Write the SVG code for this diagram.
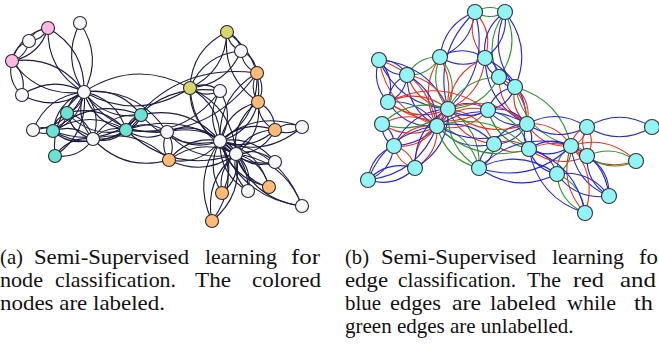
<svg xmlns="http://www.w3.org/2000/svg" width="659" height="345" viewBox="0 0 659 345">
<style>
path{fill:none;vector-effect:non-scaling-stroke;stroke-width:1.1}
.k{stroke:#1c1a3e}
.r{stroke:#e8321e}
.b{stroke:#2424e0}
.g{stroke:#2b962b}
circle{stroke:#2a2a2a;stroke-width:1.1}
.w circle{fill:#f6f6fb}
.p circle{fill:#ffb8e4}
.t circle{fill:#6ae2d4}
.o circle{fill:#d6d66c}
.y circle{fill:#ffba78}
.c circle{fill:#92f4f4;stroke:#333}
text{font-family:"Liberation Serif","Times New Roman",serif;font-size:21px;fill:#111}
</style>
<rect width="659" height="345" fill="#fff"/>
<g id="edges-a">
<path class="k" transform="matrix(9 47 -47 9 84 92)" d="M0,0Q.5,.3 1,0Q.5,-.3 0,0"/>
<path class="k" transform="matrix(42 38 -38 42 84 92)" d="M0,0Q.5,.3 1,0Q.5,-.3 0,0"/>
<path class="k" transform="matrix(-31 39 -39 -31 84 92)" d="M0,0Q.5,.3 1,0Q.5,-.3 0,0"/>
<path class="k" transform="matrix(-62 3 -3 -62 84 92)" d="M0,0Q.5,.3 1,0Q.5,-.3 0,0"/>
<path class="k" transform="matrix(-36 -64 64 -36 84 92)" d="M0,0Q.5,.3 1,0Q.5,-.3 0,0"/>
<path class="k" transform="matrix(-72 -31 31 -72 84 92)" d="M0,0Q.5,.3 1,0Q.5,-.3 0,0"/>
<path class="k" transform="matrix(-17 21 -21 -17 84 92)" d="M0,0Q.5,.3 1,0Q.5,-.3 0,0"/>
<path class="k" transform="matrix(83 40 -40 83 84 92)" d="M0,0Q.5,.3 1,0Q.5,-.3 0,0"/>
<path class="k" transform="matrix(-4 -69 69 -4 84 92)" d="M0,0Q.5,.3 1,0Q.5,-.3 0,0"/>
<path class="k" transform="matrix(-51 38 -38 -51 84 92)" d="M0,0Q.5,.3 1,0Q.5,-.3 0,0"/>
<path class="k" transform="matrix(57 23 -23 57 84 92)" d="M0,0Q.5,.3 1,0Q.5,-.3 0,0"/>
<path class="k" transform="matrix(-29 64 -64 -29 84 92)" d="M0,0Q.5,.3 1,0Q.5,-.3 0,0"/>
<path class="k" transform="matrix(106 -4 4 106 84 92)" d="M0,0Q.5,.3 1,0Q.5,-.3 0,0"/>
<path class="k" transform="matrix(33 -9 9 33 93 139)" d="M0,0Q.5,.3 1,0Q.5,-.3 0,0"/>
<path class="k" transform="matrix(-40 -8 8 -40 93 139)" d="M0,0Q.5,.3 1,0Q.5,-.3 0,0"/>
<path class="k" transform="matrix(-26 -26 26 -26 93 139)" d="M0,0Q.5,.3 1,0Q.5,-.3 0,0"/>
<path class="k" transform="matrix(48 -24 24 48 93 139)" d="M0,0Q.5,.3 1,0Q.5,-.3 0,0"/>
<path class="k" transform="matrix(-38 17 -17 -38 93 139)" d="M0,0Q.5,.3 1,0Q.5,-.3 0,0"/>
<path class="k" transform="matrix(76 21 -21 76 93 139)" d="M0,0Q.5,.3 1,0Q.5,-.3 0,0"/>
<path class="k" transform="matrix(-73 1 -1 -73 126 130)" d="M0,0Q.5,.3 1,0Q.5,-.3 0,0"/>
<path class="k" transform="matrix(-59 -17 17 -59 126 130)" d="M0,0Q.5,.3 1,0Q.5,-.3 0,0"/>
<path class="k" transform="matrix(41 2 -2 41 126 130)" d="M0,0Q.5,.3 1,0Q.5,-.3 0,0"/>
<path class="k" transform="matrix(15 -15 15 15 126 130)" d="M0,0Q.5,.3 1,0Q.5,-.3 0,0"/>
<path class="k" transform="matrix(131 -57 57 131 126 130)" d="M0,0Q.5,.3 1,0Q.5,-.3 0,0"/>
<path class="k" transform="matrix(94 -39 39 94 126 130)" d="M0,0Q.5,.3 1,0Q.5,-.3 0,0"/>
<path class="k" transform="matrix(110 24 -24 110 126 130)" d="M0,0Q.5,.3 1,0Q.5,-.3 0,0"/>
<path class="k" transform="matrix(14 -18 18 14 53 131)" d="M0,0Q.5,.3 1,0Q.5,-.3 0,0"/>
<path class="k" transform="matrix(-20 -1 1 -20 53 131)" d="M0,0Q.5,.3 1,0Q.5,-.3 0,0"/>
<path class="k" transform="matrix(88 -16 16 88 53 131)" d="M0,0Q.5,.3 1,0Q.5,-.3 0,0"/>
<path class="k" transform="matrix(-10 -34 34 -10 22 95)" d="M0,0Q.5,.3 1,0Q.5,-.3 0,0"/>
<path class="k" transform="matrix(-36 33 -33 -36 48 28)" d="M0,0Q.5,.3 1,0Q.5,-.3 0,0"/>
<path class="k" transform="matrix(-19 13 -13 -19 48 28)" d="M0,0Q.5,.3 1,0Q.5,-.3 0,0"/>
<path class="k" transform="matrix(17 -20 20 17 12 61)" d="M0,0Q.5,.3 1,0Q.5,-.3 0,0"/>
<path class="k" transform="matrix(2 28 -28 2 167 132)" d="M0,0Q.5,.3 1,0Q.5,-.3 0,0"/>
<path class="k" transform="matrix(69 22 -22 69 167 132)" d="M0,0Q.5,.3 1,0Q.5,-.3 0,0"/>
<path class="k" transform="matrix(53 9 -9 53 167 132)" d="M0,0Q.5,.3 1,0Q.5,-.3 0,0"/>
<path class="k" transform="matrix(8 -80 80 8 212 221)" d="M0,0Q.5,.3 1,0Q.5,-.3 0,0"/>
<path class="k" transform="matrix(24 -67 67 24 212 221)" d="M0,0Q.5,.3 1,0Q.5,-.3 0,0"/>
<path class="k" transform="matrix(79 26 -26 79 141 115)" d="M0,0Q.5,.3 1,0Q.5,-.3 0,0"/>
<path class="k" transform="matrix(-39 -8 8 -39 275 162)" d="M0,0Q.5,.3 1,0Q.5,-.3 0,0"/>
<path class="k" transform="matrix(-55 -21 21 -55 275 162)" d="M0,0Q.5,.3 1,0Q.5,-.3 0,0"/>
<path class="k" transform="matrix(-66 -52 52 -66 302 206)" d="M0,0Q.5,.3 1,0Q.5,-.3 0,0"/>
<path class="k" transform="matrix(-82 -65 65 -82 302 206)" d="M0,0Q.5,.3 1,0Q.5,-.3 0,0"/>
<path class="k" transform="matrix(-12 -37 37 -12 248 191)" d="M0,0Q.5,.3 1,0Q.5,-.3 0,0"/>
<path class="k" transform="matrix(-28 -50 50 -28 248 191)" d="M0,0Q.5,.3 1,0Q.5,-.3 0,0"/>
<path class="k" transform="matrix(-33 -33 33 -33 269 187)" d="M0,0Q.5,.3 1,0Q.5,-.3 0,0"/>
<path class="k" transform="matrix(-49 -46 46 -49 269 187)" d="M0,0Q.5,.3 1,0Q.5,-.3 0,0"/>
<path class="k" transform="matrix(14 -39 39 14 222 193)" d="M0,0Q.5,.3 1,0Q.5,-.3 0,0"/>
<path class="k" transform="matrix(-2 -52 52 -2 222 193)" d="M0,0Q.5,.3 1,0Q.5,-.3 0,0"/>
<path class="k" transform="matrix(-31 -70 70 -31 258 102)" d="M0,0Q.5,.3 1,0Q.5,-.3 0,0"/>
<path class="k" transform="matrix(-1 -29 29 -1 258 102)" d="M0,0Q.5,.3 1,0Q.5,-.3 0,0"/>
<path class="k" transform="matrix(17 28 -28 17 258 102)" d="M0,0Q.5,.3 1,0Q.5,-.3 0,0"/>
<path class="k" transform="matrix(-22 52 -52 -22 258 102)" d="M0,0Q.5,.3 1,0Q.5,-.3 0,0"/>
<path class="k" transform="matrix(-38 39 -39 -38 258 102)" d="M0,0Q.5,.3 1,0Q.5,-.3 0,0"/>
<path class="k" transform="matrix(-14 -19 19 -14 241 51)" d="M0,0Q.5,.3 1,0Q.5,-.3 0,0"/>
<path class="k" transform="matrix(16 22 -22 16 241 51)" d="M0,0Q.5,.3 1,0Q.5,-.3 0,0"/>
<path class="k" transform="matrix(-51 37 -37 -51 241 51)" d="M0,0Q.5,.3 1,0Q.5,-.3 0,0"/>
<path class="k" transform="matrix(-37 56 -56 -37 227 32)" d="M0,0Q.5,.3 1,0Q.5,-.3 0,0"/>
<path class="k" transform="matrix(-27 3 -3 -27 302 127)" d="M0,0Q.5,.3 1,0Q.5,-.3 0,0"/>
<path class="k" transform="matrix(-82 14 -14 -82 302 127)" d="M0,0Q.5,.3 1,0Q.5,-.3 0,0"/>
<path class="k" transform="matrix(-37 68 -68 -37 257 73)" d="M0,0Q.5,.3 1,0Q.5,-.3 0,0"/>
<path class="k" transform="matrix(-30 -3 3 -30 220 91)" d="M0,0Q.5,.3 1,0Q.5,-.3 0,0"/>
<path class="k" transform="matrix(0 50 -50 0 220 91)" d="M0,0Q.5,.3 1,0Q.5,-.3 0,0"/>
<path class="k" transform="matrix(-39 24 -24 -39 275 130)" d="M0,0Q.5,.3 1,0Q.5,-.3 0,0"/>
<path class="k" transform="matrix(-55 11 -11 -55 275 130)" d="M0,0Q.5,.3 1,0Q.5,-.3 0,0"/>
<path class="k" transform="matrix(67 -6 6 67 169 160)" d="M0,0Q.5,.3 1,0Q.5,-.3 0,0"/>
<path class="k" transform="matrix(51 -19 19 51 169 160)" d="M0,0Q.5,.3 1,0Q.5,-.3 0,0"/>
<path class="k" transform="matrix(46 66 -66 46 190 88)" d="M0,0Q.5,.3 1,0Q.5,-.3 0,0"/>
<path class="k" transform="matrix(30 53 -53 30 190 88)" d="M0,0Q.5,.3 1,0Q.5,-.3 0,0"/>
<path class="k" transform="matrix(-16 -13 13 -16 236 154)" d="M0,0Q.5,.3 1,0Q.5,-.3 0,0"/>
</g>
<g id="edges-b">
<path class="g" transform="matrix(30 0 0 30 475 12)" d="M0,0Q.5,.3 1,0Q.5,-.3 0,0"/>
<path class="b" transform="matrix(-35 45 -45 -35 475 12)" d="M0,0Q.5,.3 1,0Q.5,-.3 0,0"/>
<path class="r" transform="matrix(10 46 -46 10 475 12)" d="M0,0Q.5,.3 1,0Q.5,-.3 0,0"/>
<path class="b" transform="matrix(-27 97 -97 -27 475 12)" d="M0,0Q.5,.3 1,0Q.5,-.3 0,0"/>
<path class="g" transform="matrix(-6 65 -65 -6 505 12)" d="M0,0Q.5,.3 1,0Q.5,-.3 0,0"/>
<path class="b" transform="matrix(10 75 -75 10 505 12)" d="M0,0Q.5,.3 1,0Q.5,-.3 0,0"/>
<path class="b" transform="matrix(-20 46 -46 -20 505 12)" d="M0,0Q.5,.3 1,0Q.5,-.3 0,0"/>
<path class="b" transform="matrix(45 1 -1 45 440 57)" d="M0,0Q.5,.3 1,0Q.5,-.3 0,0"/>
<path class="g" transform="matrix(8 52 -52 8 440 57)" d="M0,0Q.5,.3 1,0Q.5,-.3 0,0"/>
<path class="g" transform="matrix(-33 18 -18 -33 440 57)" d="M0,0Q.5,.3 1,0Q.5,-.3 0,0"/>
<path class="r" transform="matrix(-3 69 -69 -3 440 57)" d="M0,0Q.5,.3 1,0Q.5,-.3 0,0"/>
<path class="b" transform="matrix(14 19 -19 14 485 58)" d="M0,0Q.5,.3 1,0Q.5,-.3 0,0"/>
<path class="b" transform="matrix(42 66 -66 42 485 58)" d="M0,0Q.5,.3 1,0Q.5,-.3 0,0"/>
<path class="r" transform="matrix(-37 51 -51 -37 485 58)" d="M0,0Q.5,.3 1,0Q.5,-.3 0,0"/>
<path class="b" transform="matrix(16 10 -10 16 499 77)" d="M0,0Q.5,.3 1,0Q.5,-.3 0,0"/>
<path class="g" transform="matrix(-51 32 -32 -51 499 77)" d="M0,0Q.5,.3 1,0Q.5,-.3 0,0"/>
<path class="r" transform="matrix(28 47 -47 28 499 77)" d="M0,0Q.5,.3 1,0Q.5,-.3 0,0"/>
<path class="r" transform="matrix(12 37 -37 12 515 87)" d="M0,0Q.5,.3 1,0Q.5,-.3 0,0"/>
<path class="g" transform="matrix(56 59 -59 56 515 87)" d="M0,0Q.5,.3 1,0Q.5,-.3 0,0"/>
<path class="b" transform="matrix(-27 23 -23 -27 515 87)" d="M0,0Q.5,.3 1,0Q.5,-.3 0,0"/>
<path class="b" transform="matrix(28 15 -15 28 379 60)" d="M0,0Q.5,.3 1,0Q.5,-.3 0,0"/>
<path class="b" transform="matrix(69 49 -49 69 379 60)" d="M0,0Q.5,.3 1,0Q.5,-.3 0,0"/>
<path class="r" transform="matrix(58 66 -66 58 379 60)" d="M0,0Q.5,.3 1,0Q.5,-.3 0,0"/>
<path class="r" transform="matrix(41 34 -34 41 407 75)" d="M0,0Q.5,.3 1,0Q.5,-.3 0,0"/>
<path class="b" transform="matrix(30 51 -51 30 407 75)" d="M0,0Q.5,.3 1,0Q.5,-.3 0,0"/>
<path class="r" transform="matrix(60 7 -7 60 388 102)" d="M0,0Q.5,.3 1,0Q.5,-.3 0,0"/>
<path class="b" transform="matrix(49 24 -24 49 388 102)" d="M0,0Q.5,.3 1,0Q.5,-.3 0,0"/>
<path class="r" transform="matrix(100 8 -8 100 388 102)" d="M0,0Q.5,.3 1,0Q.5,-.3 0,0"/>
<path class="r" transform="matrix(55 2 -2 55 382 124)" d="M0,0Q.5,.3 1,0Q.5,-.3 0,0"/>
<path class="g" transform="matrix(66 -15 15 66 382 124)" d="M0,0Q.5,.3 1,0Q.5,-.3 0,0"/>
<path class="r" transform="matrix(43 -20 20 43 394 146)" d="M0,0Q.5,.3 1,0Q.5,-.3 0,0"/>
<path class="b" transform="matrix(54 -37 37 54 394 146)" d="M0,0Q.5,.3 1,0Q.5,-.3 0,0"/>
<path class="b" transform="matrix(-12 -22 22 -12 394 146)" d="M0,0Q.5,.3 1,0Q.5,-.3 0,0"/>
<path class="b" transform="matrix(47 -12 12 47 368 180)" d="M0,0Q.5,.3 1,0Q.5,-.3 0,0"/>
<path class="b" transform="matrix(69 -54 54 69 368 180)" d="M0,0Q.5,.3 1,0Q.5,-.3 0,0"/>
<path class="r" transform="matrix(22 -42 42 22 415 168)" d="M0,0Q.5,.3 1,0Q.5,-.3 0,0"/>
<path class="b" transform="matrix(33 -59 59 33 415 168)" d="M0,0Q.5,.3 1,0Q.5,-.3 0,0"/>
<path class="g" transform="matrix(-42 -42 42 -42 479 168)" d="M0,0Q.5,.3 1,0Q.5,-.3 0,0"/>
<path class="b" transform="matrix(15 -24 24 15 479 168)" d="M0,0Q.5,.3 1,0Q.5,-.3 0,0"/>
<path class="b" transform="matrix(78 6 -6 78 479 168)" d="M0,0Q.5,.3 1,0Q.5,-.3 0,0"/>
<path class="g" transform="matrix(-31 -59 59 -31 479 168)" d="M0,0Q.5,.3 1,0Q.5,-.3 0,0"/>
<path class="r" transform="matrix(-46 -35 35 -46 494 144)" d="M0,0Q.5,.3 1,0Q.5,-.3 0,0"/>
<path class="b" transform="matrix(-57 -18 18 -57 494 144)" d="M0,0Q.5,.3 1,0Q.5,-.3 0,0"/>
<path class="r" transform="matrix(35 5 -5 35 494 144)" d="M0,0Q.5,.3 1,0Q.5,-.3 0,0"/>
<path class="b" transform="matrix(33 -20 20 33 494 144)" d="M0,0Q.5,.3 1,0Q.5,-.3 0,0"/>
<path class="b" transform="matrix(-40 -1 1 -40 488 110)" d="M0,0Q.5,.3 1,0Q.5,-.3 0,0"/>
<path class="r" transform="matrix(-51 16 -16 -51 488 110)" d="M0,0Q.5,.3 1,0Q.5,-.3 0,0"/>
<path class="b" transform="matrix(39 14 -14 39 488 110)" d="M0,0Q.5,.3 1,0Q.5,-.3 0,0"/>
<path class="g" transform="matrix(41 39 -39 41 488 110)" d="M0,0Q.5,.3 1,0Q.5,-.3 0,0"/>
<path class="b" transform="matrix(2 25 -25 2 527 124)" d="M0,0Q.5,.3 1,0Q.5,-.3 0,0"/>
<path class="r" transform="matrix(44 22 -22 44 527 124)" d="M0,0Q.5,.3 1,0Q.5,-.3 0,0"/>
<path class="b" transform="matrix(60 3 -3 60 527 124)" d="M0,0Q.5,.3 1,0Q.5,-.3 0,0"/>
<path class="b" transform="matrix(42 -3 3 42 529 149)" d="M0,0Q.5,.3 1,0Q.5,-.3 0,0"/>
<path class="b" transform="matrix(28 25 -25 28 529 149)" d="M0,0Q.5,.3 1,0Q.5,-.3 0,0"/>
<path class="r" transform="matrix(58 7 -7 58 529 149)" d="M0,0Q.5,.3 1,0Q.5,-.3 0,0"/>
<path class="r" transform="matrix(16 -19 19 16 571 146)" d="M0,0Q.5,.3 1,0Q.5,-.3 0,0"/>
<path class="r" transform="matrix(16 10 -10 16 571 146)" d="M0,0Q.5,.3 1,0Q.5,-.3 0,0"/>
<path class="g" transform="matrix(-14 28 -28 -14 571 146)" d="M0,0Q.5,.3 1,0Q.5,-.3 0,0"/>
<path class="r" transform="matrix(65 15 -15 65 571 146)" d="M0,0Q.5,.3 1,0Q.5,-.3 0,0"/>
<path class="b" transform="matrix(38 50 -50 38 571 146)" d="M0,0Q.5,.3 1,0Q.5,-.3 0,0"/>
<path class="r" transform="matrix(14 67 -67 14 571 146)" d="M0,0Q.5,.3 1,0Q.5,-.3 0,0"/>
<path class="b" transform="matrix(65 0 0 65 587 127)" d="M0,0Q.5,.3 1,0Q.5,-.3 0,0"/>
<path class="r" transform="matrix(0 29 -29 0 587 127)" d="M0,0Q.5,.3 1,0Q.5,-.3 0,0"/>
<path class="g" transform="matrix(49 5 -5 49 587 156)" d="M0,0Q.5,.3 1,0Q.5,-.3 0,0"/>
<path class="b" transform="matrix(52 22 -22 52 557 174)" d="M0,0Q.5,.3 1,0Q.5,-.3 0,0"/>
<path class="g" transform="matrix(28 39 -39 28 557 174)" d="M0,0Q.5,.3 1,0Q.5,-.3 0,0"/>
<path class="b" transform="matrix(22 40 -40 22 587 156)" d="M0,0Q.5,.3 1,0Q.5,-.3 0,0"/>
<path class="b" transform="matrix(56 64 -64 56 529 149)" d="M0,0Q.5,.3 1,0Q.5,-.3 0,0"/>
<path class="b" transform="matrix(92 -22 22 92 479 168)" d="M0,0Q.5,.3 1,0Q.5,-.3 0,0"/>
<path class="b" transform="matrix(90 -2 2 90 437 126)" d="M0,0Q.5,.3 1,0Q.5,-.3 0,0"/>
<path class="r" transform="matrix(79 15 -15 79 448 109)" d="M0,0Q.5,.3 1,0Q.5,-.3 0,0"/>
<path class="g" transform="matrix(92 23 -23 92 437 126)" d="M0,0Q.5,.3 1,0Q.5,-.3 0,0"/>
<path class="r" transform="matrix(11 -17 17 11 437 126)" d="M0,0Q.5,.3 1,0Q.5,-.3 0,0"/>
<path class="b" transform="matrix(19 -27 27 19 388 102)" d="M0,0Q.5,.3 1,0Q.5,-.3 0,0"/>
<path class="r" transform="matrix(21 22 -22 21 394 146)" d="M0,0Q.5,.3 1,0Q.5,-.3 0,0"/>
<path class="b" transform="matrix(26 -34 34 26 368 180)" d="M0,0Q.5,.3 1,0Q.5,-.3 0,0"/>
<path class="b" transform="matrix(9 42 -42 9 379 60)" d="M0,0Q.5,.3 1,0Q.5,-.3 0,0"/>
</g>
<g id="a0" class="w"><circle cx="84" cy="92" r="6.5"/></g>
<g id="a1" class="w"><circle cx="93" cy="139" r="6.5"/></g>
<g id="a2" class="t"><circle cx="126" cy="130" r="6.5"/></g>
<g id="a3" class="t"><circle cx="53" cy="131" r="6.5"/></g>
<g id="a4" class="w"><circle cx="22" cy="95" r="6.5"/></g>
<g id="a5" class="p"><circle cx="48" cy="28" r="6.5"/></g>
<g id="a6" class="p"><circle cx="12" cy="61" r="6.5"/></g>
<g id="a7" class="t"><circle cx="67" cy="113" r="6.5"/></g>
<g id="a8" class="w"><circle cx="167" cy="132" r="6.5"/></g>
<g id="a9" class="y"><circle cx="212" cy="221" r="6.5"/></g>
<g id="a11" class="w"><circle cx="80" cy="23" r="6.5"/></g>
<g id="a12" class="w"><circle cx="33" cy="130" r="6.5"/></g>
<g id="a13" class="t"><circle cx="141" cy="115" r="6.5"/></g>
<g id="a14" class="w"><circle cx="275" cy="162" r="6.5"/></g>
<g id="a15" class="w"><circle cx="302" cy="206" r="6.5"/></g>
<g id="a16" class="w"><circle cx="29" cy="41" r="6.5"/></g>
<g id="a17" class="t"><circle cx="55" cy="156" r="6.5"/></g>
<g id="a18" class="w"><circle cx="248" cy="191" r="6.5"/></g>
<g id="a20" class="y"><circle cx="269" cy="187" r="6.5"/></g>
<g id="a22" class="y"><circle cx="222" cy="193" r="6.5"/></g>
<g id="a23" class="y"><circle cx="258" cy="102" r="6.5"/></g>
<g id="a24" class="w"><circle cx="241" cy="51" r="6.5"/></g>
<g id="a25" class="o"><circle cx="227" cy="32" r="6.5"/></g>
<g id="a26" class="w"><circle cx="302" cy="127" r="6.5"/></g>
<g id="a27" class="y"><circle cx="257" cy="73" r="6.5"/></g>
<g id="a28" class="w"><circle cx="220" cy="91" r="6.5"/></g>
<g id="a29" class="y"><circle cx="275" cy="130" r="6.5"/></g>
<g id="a30" class="y"><circle cx="169" cy="160" r="6.5"/></g>
<g id="a31" class="o"><circle cx="190" cy="88" r="6.5"/></g>
<g id="a32" class="w"><circle cx="236" cy="154" r="6.5"/></g>
<g id="a33" class="w"><circle cx="220" cy="141" r="6.5"/></g>
<g id="bA" class="c"><circle cx="475" cy="12" r="7.5"/></g>
<g id="bB" class="c"><circle cx="505" cy="12" r="7.5"/></g>
<g id="bC" class="c"><circle cx="379" cy="60" r="7.5"/></g>
<g id="bD" class="c"><circle cx="440" cy="57" r="7.5"/></g>
<g id="bE" class="c"><circle cx="485" cy="58" r="7.5"/></g>
<g id="bF" class="c"><circle cx="407" cy="75" r="7.5"/></g>
<g id="bG" class="c"><circle cx="499" cy="77" r="7.5"/></g>
<g id="bH" class="c"><circle cx="515" cy="87" r="7.5"/></g>
<g id="bI" class="c"><circle cx="388" cy="102" r="7.5"/></g>
<g id="bJ" class="c"><circle cx="448" cy="109" r="7.5"/></g>
<g id="bK" class="c"><circle cx="488" cy="110" r="7.5"/></g>
<g id="bL" class="c"><circle cx="382" cy="124" r="7.5"/></g>
<g id="bM" class="c"><circle cx="437" cy="126" r="7.5"/></g>
<g id="bN" class="c"><circle cx="394" cy="146" r="7.5"/></g>
<g id="bO" class="c"><circle cx="494" cy="144" r="7.5"/></g>
<g id="bP" class="c"><circle cx="415" cy="168" r="7.5"/></g>
<g id="bQ" class="c"><circle cx="479" cy="168" r="7.5"/></g>
<g id="bR" class="c"><circle cx="368" cy="180" r="7.5"/></g>
<g id="bS" class="c"><circle cx="527" cy="124" r="7.5"/></g>
<g id="bT" class="c"><circle cx="587" cy="127" r="7.5"/></g>
<g id="bU" class="c"><circle cx="652" cy="127" r="7.5"/></g>
<g id="bV" class="c"><circle cx="529" cy="149" r="7.5"/></g>
<g id="bW" class="c"><circle cx="571" cy="146" r="7.5"/></g>
<g id="bX" class="c"><circle cx="587" cy="156" r="7.5"/></g>
<g id="bY" class="c"><circle cx="636" cy="161" r="7.5"/></g>
<g id="bZ" class="c"><circle cx="557" cy="174" r="7.5"/></g>
<g id="bAA" class="c"><circle cx="609" cy="196" r="7.5"/></g>
<g id="bAB" class="c"><circle cx="585" cy="213" r="7.5"/></g>
<g id="caption-a">
<text x="0" y="264" textLength="23" lengthAdjust="spacingAndGlyphs">(a)</text>
<text x="34" y="264" textLength="155" lengthAdjust="spacingAndGlyphs">Semi-Supervised</text>
<text x="205" y="264" textLength="72" lengthAdjust="spacingAndGlyphs">learning</text>
<text x="291" y="264" textLength="29" lengthAdjust="spacingAndGlyphs">for</text>
<text x="0" y="287" textLength="43" lengthAdjust="spacingAndGlyphs">node</text>
<text x="55" y="287" textLength="121" lengthAdjust="spacingAndGlyphs">classification.</text>
<text x="195" y="287" textLength="36" lengthAdjust="spacingAndGlyphs">The</text>
<text x="252" y="287" textLength="69" lengthAdjust="spacingAndGlyphs">colored</text>
<text x="0" y="310" textLength="165" lengthAdjust="spacingAndGlyphs">nodes are labeled.</text>
</g>
<g id="caption-b">
<text x="345" y="264" textLength="24" lengthAdjust="spacingAndGlyphs">(b)</text>
<text x="381" y="264" textLength="155" lengthAdjust="spacingAndGlyphs">Semi-Supervised</text>
<text x="552" y="264" textLength="72" lengthAdjust="spacingAndGlyphs">learning</text>
<text x="639" y="264" textLength="19" lengthAdjust="spacingAndGlyphs">fo</text>
<text x="345" y="287" textLength="43" lengthAdjust="spacingAndGlyphs">edge</text>
<text x="398" y="287" textLength="118" lengthAdjust="spacingAndGlyphs">classification.</text>
<text x="527" y="287" textLength="34" lengthAdjust="spacingAndGlyphs">The</text>
<text x="573" y="287" textLength="31" lengthAdjust="spacingAndGlyphs">red</text>
<text x="620" y="287" textLength="36" lengthAdjust="spacingAndGlyphs">and</text>
<text x="345" y="310" textLength="36" lengthAdjust="spacingAndGlyphs">blue</text>
<text x="390" y="310" textLength="51" lengthAdjust="spacingAndGlyphs">edges</text>
<text x="452" y="310" textLength="29" lengthAdjust="spacingAndGlyphs">are</text>
<text x="490" y="310" textLength="66" lengthAdjust="spacingAndGlyphs">labeled</text>
<text x="567" y="310" textLength="49" lengthAdjust="spacingAndGlyphs">while</text>
<text x="634" y="310" textLength="19" lengthAdjust="spacingAndGlyphs">th</text>
<text x="345" y="333">green edges are unlabelled.</text>
</g>
</svg>
